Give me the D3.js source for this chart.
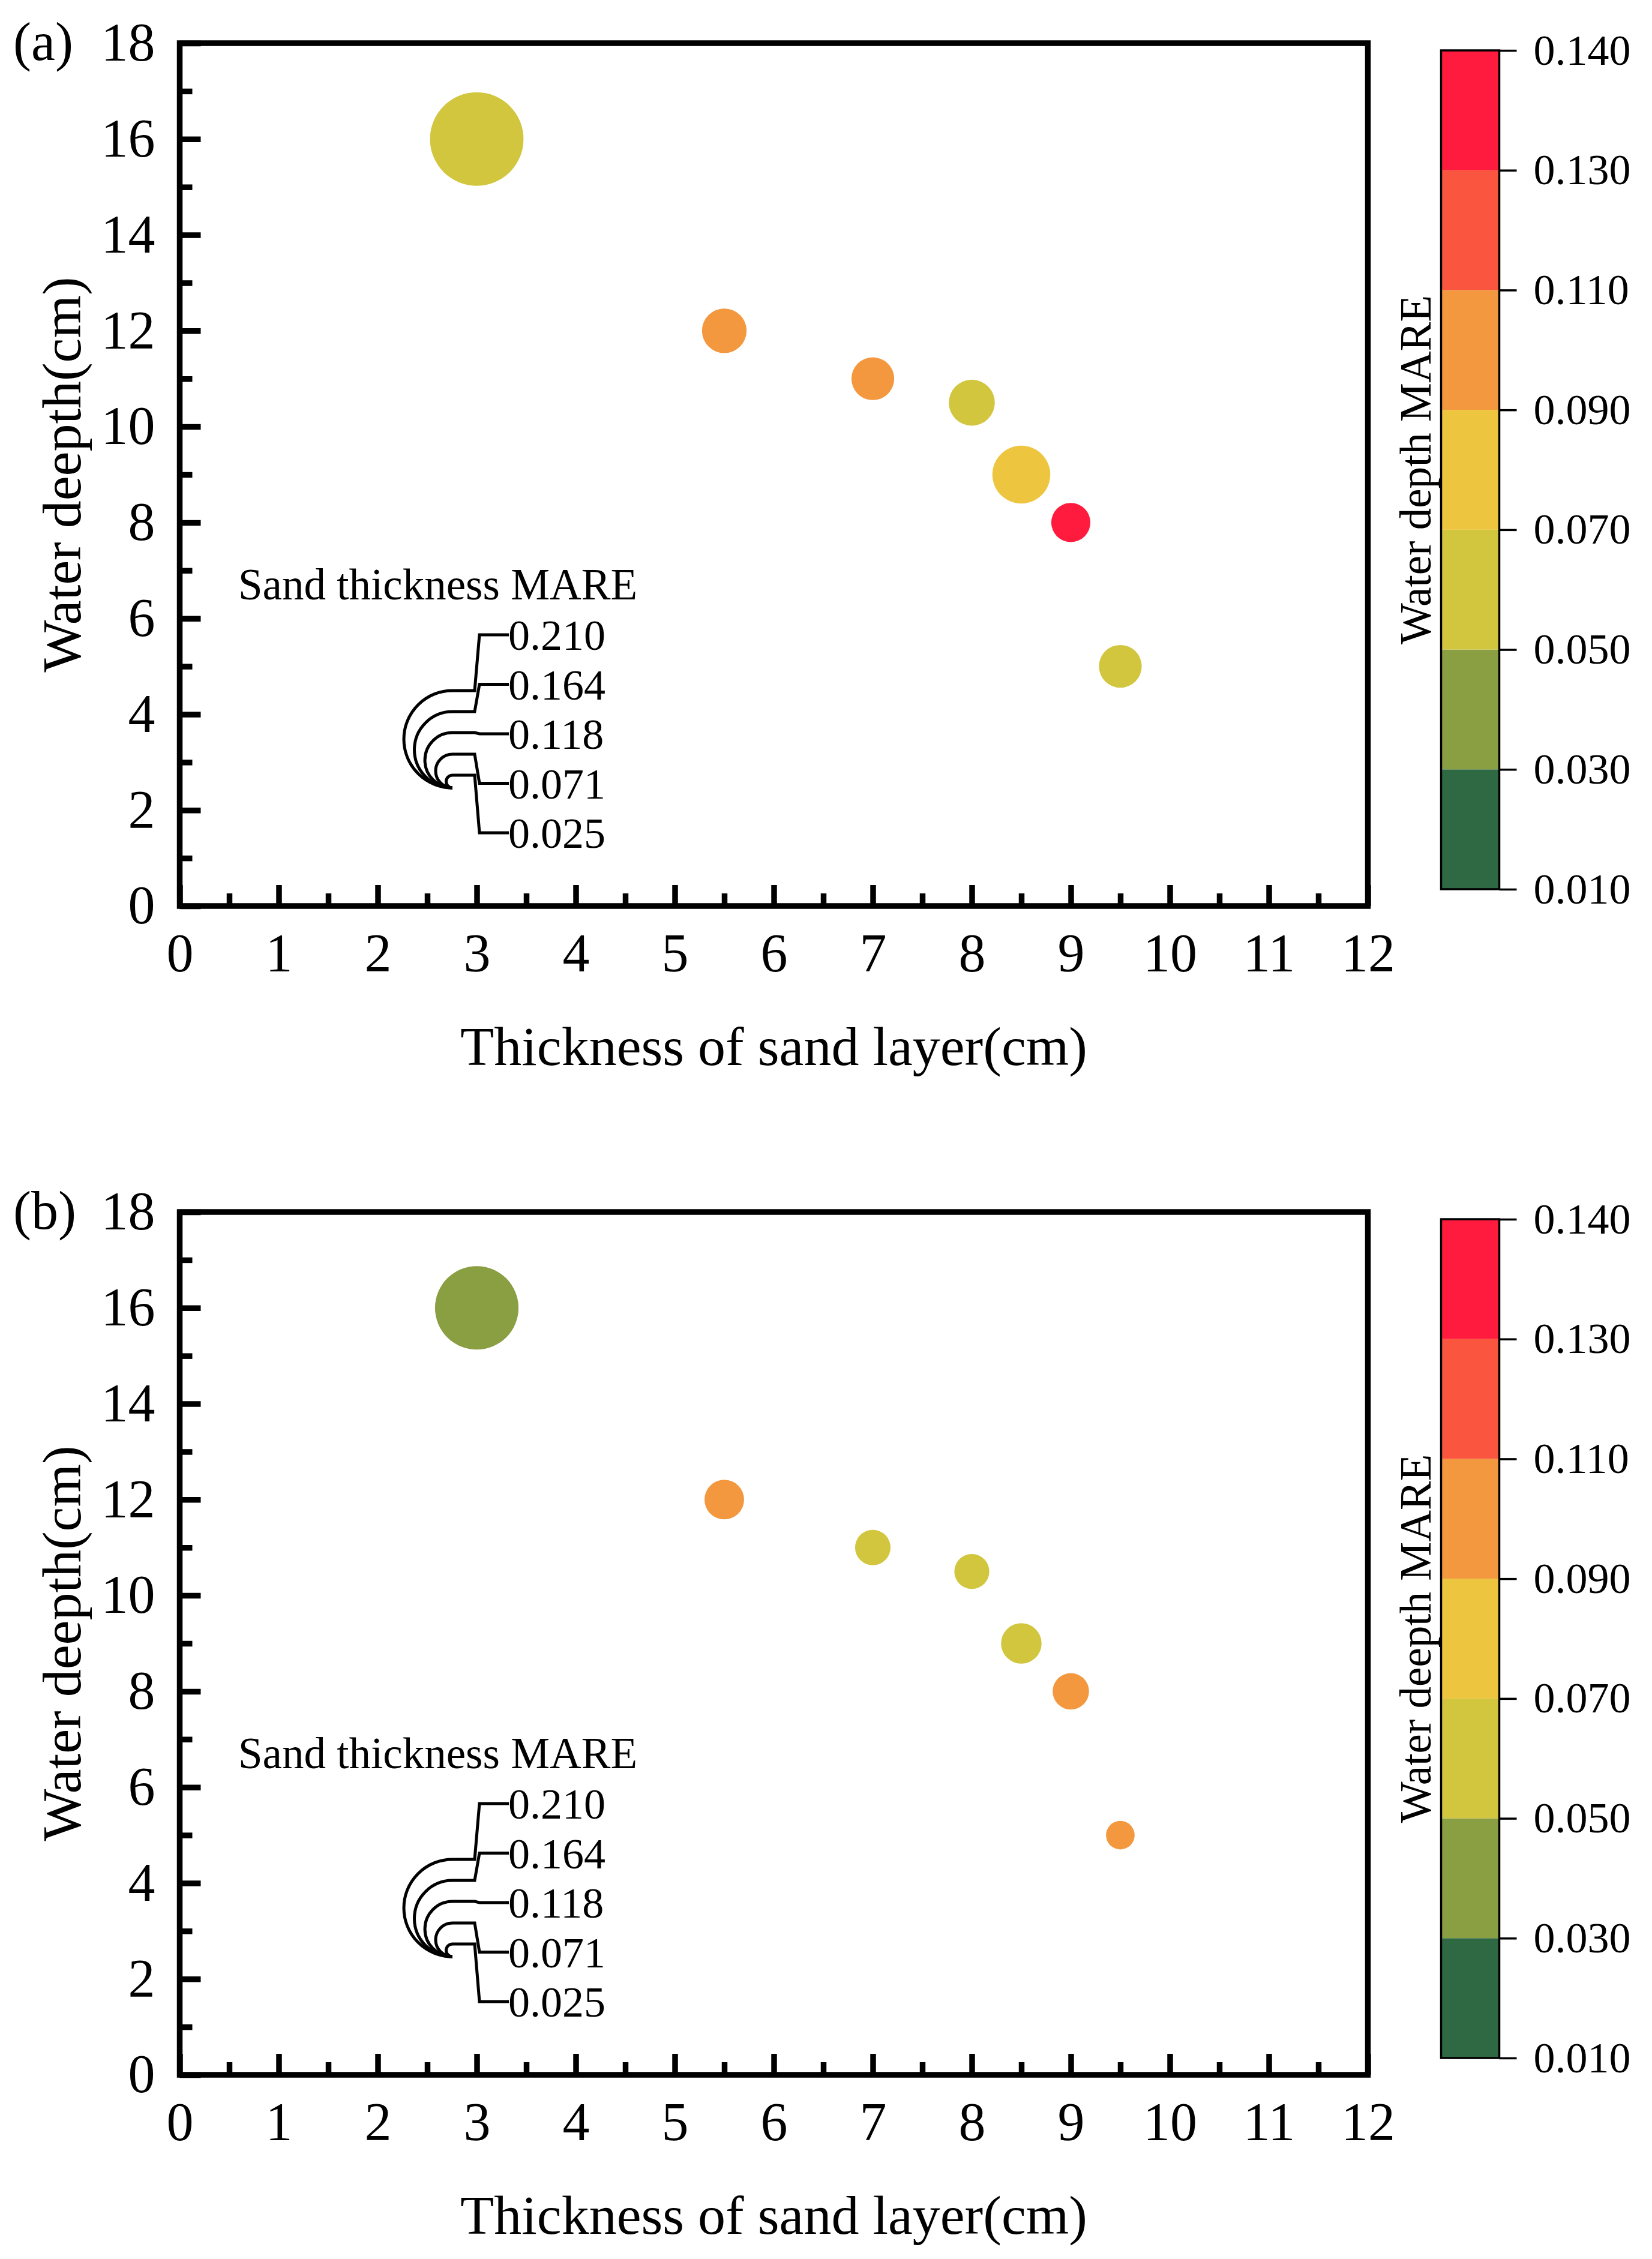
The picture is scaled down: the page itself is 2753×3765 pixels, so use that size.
<!DOCTYPE html>
<html>
<head>
<meta charset="utf-8">
<script src="https://cdn.jsdelivr.net/npm/d3@7"></script>
<style>
  body { margin: 0; background: #fff; }
  text { font-family: "Liberation Serif", "Times New Roman", serif; fill: #000; }
</style>
</head>
<body>
<div id="chart-area"></div>
<script>
const chartWidth = 2753
const chartHeight = 3765

// data
const thickness = [3, 5.5, 7, 8, 8.5, 9, 9.5];
const depth = [16, 12, 11, 10.5, 9, 8, 5];

// panel (a)
const sandMareA = [0.202, 0.095, 0.091, 0.098, 0.124, 0.083, 0.091];
const waterMareA = [0.060, 0.100, 0.100, 0.060, 0.080, 0.135, 0.060];
// panel (b)
const sandMareB = [0.180, 0.084, 0.075, 0.074, 0.086, 0.077, 0.060];
const waterMareB = [0.040, 0.100, 0.060, 0.060, 0.060, 0.100, 0.100];

const colorLevels = [0.010, 0.030, 0.050, 0.070, 0.090, 0.110, 0.130, 0.140];
const levelColors = ["#2E6943", "#8A9E42", "#D2C63F", "#EEC53E", "#F3983F", "#FA553E", "#FF1B3D"];
const sizeLevels = [0.210, 0.164, 0.118, 0.071, 0.025];

const xTicks = d3.range(0, 13, 1);
const xMinor = d3.range(0.5, 12, 1);
const yTicks = d3.range(0, 19, 2);
const yMinor = d3.range(1, 18, 2);

const panels = [
    {label: "(a)", sand: sandMareA, water: waterMareA, cbTitle: "Water depth MARE", dy: 0},
    {label: "(b)", sand: sandMareB, water: waterMareB, cbTitle: "Water deepth MARE", dy: 1948}
];

const plot = {left: 299.5, right: 2279.5, top: 72, bottom: 1510};

const svg = d3.select("#chart-area").append("svg")
    .attr("width", chartWidth)
    .attr("height", chartHeight);

const x = d3.scaleLinear().domain([0, 12]).range([plot.left, plot.right]);
const y = d3.scaleLinear().domain([0, 18]).range([plot.bottom, plot.top]);

// radius linear in the value, as in the size legend
const rScale = d3.scaleLinear().domain([0.025, 0.210]).range([10.5, 81]);

const color = d3.scaleThreshold()
    .domain(colorLevels.slice(1, -1))
    .range(levelColors);

// colour bar: levels evenly spaced
const cbY = d3.scalePoint().domain(colorLevels).range([1482, 84]);

panels.forEach(p => drawPanel(p));

function drawPanel(p) {
    const g = svg.append("g").attr("transform", `translate(0, ${p.dy})`);

    // bubbles
    const pts = thickness.map((t, i) => ({x: t, y: depth[i], s: p.sand[i], w: p.water[i]}));
    g.selectAll("circle.bubble")
        .data(pts)
        .enter()
        .append("circle")
        .attr("class", "bubble")
        .attr("cx", d => x(d.x))
        .attr("cy", d => y(d.y))
        .attr("r", d => rScale(d.s))
        .style("fill", d => color(d.w));

    // axes, ticks pointing inward
    const styleAxis = sel => {
        sel.select(".domain").remove();
        sel.selectAll("line").attr("stroke", "#000").attr("stroke-width", 9.5);
        sel.selectAll("text").attr("font-size", "90px").style("font-family", "Liberation Serif");
    };

    g.append("g")
        .attr("transform", `translate(0, ${plot.bottom})`)
        .call(d3.axisBottom(x).tickValues(xTicks).tickSize(-35).tickPadding(45).tickFormat(d3.format("d")))
        .call(styleAxis);
    g.append("g")
        .attr("transform", `translate(0, ${plot.bottom})`)
        .call(d3.axisBottom(x).tickValues(xMinor).tickSize(-21).tickFormat(""))
        .call(styleAxis);

    g.append("g")
        .attr("transform", `translate(${plot.left}, 0)`)
        .call(d3.axisLeft(y).tickValues(yTicks).tickSize(-35).tickPadding(41).tickFormat(d3.format("d")))
        .call(styleAxis);
    g.append("g")
        .attr("transform", `translate(${plot.left}, 0)`)
        .call(d3.axisLeft(y).tickValues(yMinor).tickSize(-21).tickFormat(""))
        .call(styleAxis);

    // frame
    g.append("rect")
        .attr("x", plot.left)
        .attr("y", plot.top)
        .attr("width", plot.right - plot.left)
        .attr("height", plot.bottom - plot.top)
        .attr("fill", "none")
        .attr("stroke", "#000")
        .attr("stroke-width", 9.5);

    // axis titles
    g.append("text")
        .attr("x", (plot.left + plot.right) / 2)
        .attr("y", 1775)
        .attr("font-size", "92px")
        .attr("text-anchor", "middle")
        .text("Thickness of sand layer(cm)");

    g.append("text")
        .attr("transform", `translate(134, ${(plot.top + plot.bottom) / 2}) rotate(-90)`)
        .attr("font-size", "92px")
        .attr("text-anchor", "middle")
        .text("Water deepth(cm)");

    g.append("text")
        .attr("x", 22)
        .attr("y", 100)
        .attr("font-size", "90px")
        .text(p.label);

    // size legend
    const lg = g.append("g");
    const cx = 754, base = 1313;
    lg.append("text")
        .attr("x", 397)
        .attr("y", 999)
        .attr("font-size", "73px")
        .text("Sand thickness MARE");

    lg.selectAll("path.arc")
        .data(sizeLevels)
        .enter()
        .append("path")
        .attr("class", "arc")
        .attr("d", (v, i) => {
            const r = rScale(v);
            const top = base - 2 * r;
            const ly = 1058 + i * 82.5;
            return `M${cx},${top} A${r},${r} 0 0 0 ${cx},${base} M${cx},${top} H791 L799,${ly} H848`;
        })
        .attr("fill", "none")
        .attr("stroke", "#000")
        .attr("stroke-width", 5);

    lg.selectAll("text.lab")
        .data(sizeLevels)
        .enter()
        .append("text")
        .attr("class", "lab")
        .attr("x", 847)
        .attr("y", (v, i) => 1058 + i * 82.5)
        .attr("dy", "0.35em")
        .attr("font-size", "72px")
        .text(v => v.toFixed(3));

    // colour bar
    const cb = g.append("g");
    const cbLeft = 2401.5, cbRight = 2498.5;
    const bins = levelColors.map((c, i) => ({lo: colorLevels[i], hi: colorLevels[i + 1], c: c}));
    cb.selectAll("rect.bin")
        .data(bins)
        .enter()
        .append("rect")
        .attr("class", "bin")
        .attr("x", cbLeft)
        .attr("y", d => cbY(d.hi))
        .attr("width", cbRight - cbLeft)
        .attr("height", d => cbY(d.lo) - cbY(d.hi))
        .style("fill", d => d.c);

    cb.append("rect")
        .attr("x", cbLeft)
        .attr("y", cbY(0.140))
        .attr("width", cbRight - cbLeft)
        .attr("height", cbY(0.010) - cbY(0.140))
        .attr("fill", "none")
        .attr("stroke", "#000")
        .attr("stroke-width", 3.5);

    cb.append("g")
        .attr("transform", `translate(${cbRight}, 0)`)
        .call(d3.axisRight(cbY).tickSize(29).tickPadding(28).tickFormat(d3.format(".3f")))
        .call(sel => {
            sel.select(".domain").remove();
            sel.selectAll("line").attr("stroke", "#000").attr("stroke-width", 3.5);
            sel.selectAll("text").attr("font-size", "72px").style("font-family", "Liberation Serif");
        });

    cb.append("text")
        .attr("transform", `translate(2384, ${(cbY(0.010) + cbY(0.140)) / 2}) rotate(-90)`)
        .attr("font-size", "73px")
        .attr("text-anchor", "middle")
        .text(p.cbTitle);
}
</script>
</body>
</html>
